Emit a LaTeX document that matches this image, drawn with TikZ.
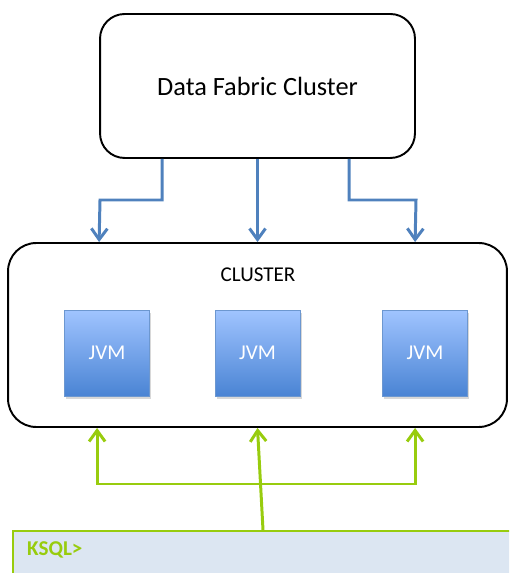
\documentclass[tikz,border=0pt]{standalone}
\usepackage{fontspec}
\setmainfont{Carlito}
\usetikzlibrary{arrows.meta,positioning,calc,shadows}
\definecolor{linkblue}{HTML}{4F81BD}
\definecolor{linkgreen}{HTML}{98CC0E}
\definecolor{jvmtop}{HTML}{A0C4FF}
\definecolor{jvmbot}{HTML}{4A84D4}
\definecolor{jvmedge}{HTML}{6C97D0}
\definecolor{shellfill}{HTML}{DCE6F2}
\tikzset{%
  frame/.style={draw,line width=1.1pt,rounded corners=14pt,fill=white,align=center},
  jvm/.style={draw=jvmedge,top color=jvmtop,bottom color=jvmbot,text=white,
    minimum width=1.7cm,minimum height=1.72cm,font=\large,
    drop shadow={shadow xshift=1pt,shadow yshift=-1.5pt,opacity=0.3}},
  shell/.style={draw=linkgreen,line width=1.2pt,fill=shellfill,
    minimum width=10.4cm,minimum height=1.4cm},
  bluearrow/.style={-{Straight Barb[length=2.2mm,width=3.2mm]},linkblue,line width=1.7pt},
  greenarrow/.style={-{Straight Barb[length=2.2mm,width=3.2mm]},linkgreen,line width=1.7pt}%
}

\begin{document}
\begin{tikzpicture}[x=0.02cm,y=-0.02cm]
\useasboundingbox (0,0) rectangle (509,573);
\clip (0,0) rectangle (509,573);

% Boxes
\node[frame,minimum width=6.3cm,minimum height=2.88cm,font=\fontsize{15}{18}\selectfont] (dfc) at (257.5,86) {Data Fabric Cluster};
\node[frame,minimum width=9.98cm,minimum height=3.68cm,rounded corners=16pt] (cluster) at (257.5,335) {};
\node[font=\large] (clabel) at (258,275) {CLUSTER};

\node[jvm] (jvma) at (107,353) {JVM};
\node[jvm] (jvmb) at (257.5,353) {JVM};
\node[jvm] (jvmc) at (425,353) {JVM};

\node[shell,anchor=north west] (ksql) at (12,530) {};
\node[anchor=west,text=linkgreen,font=\large\bfseries] (prompt) at (21,550) {KSQL>};

% Blue links from the fabric
\coordinate (bend) at (0,200);
\draw[bluearrow] ($(dfc.south west)+(63,0)$) |- ($(bend)+(100,0)$) -- ($(cluster.north west)+(92,0)$);
\draw[bluearrow] (dfc.south) -- (cluster.north);
\draw[bluearrow] ($(dfc.south west)+(250,0)$) |- ($(bend)+(416,0)$) -- ($(cluster.north west)+(408,0)$);

% Green links from the shell
\coordinate (rail) at (0,484);
\draw[greenarrow] ($(ksql.north west)+(251,0)$) -- (cluster.south);
\draw[greenarrow] ($(rail)+(258,0)$) -| ($(cluster.south west)+(90,0)$);
\draw[greenarrow] ($(rail)+(258,0)$) -| ($(cluster.south west)+(408,0)$);

\end{tikzpicture}
\end{document}
